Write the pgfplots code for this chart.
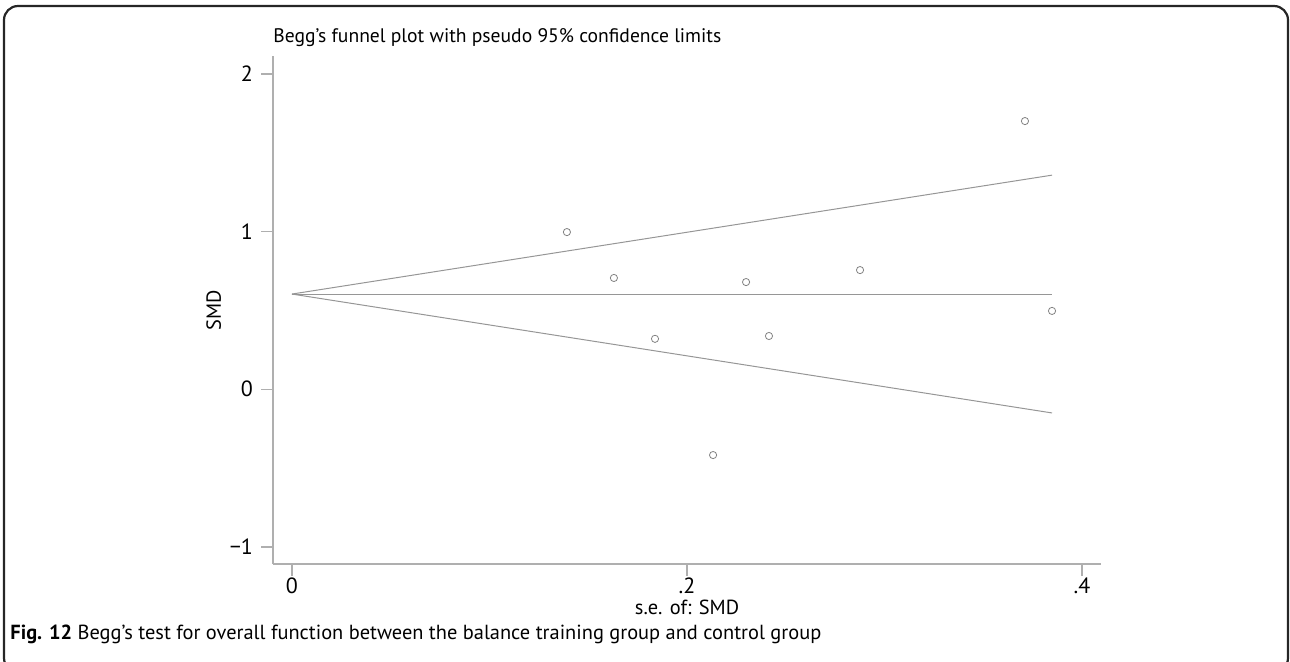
\documentclass[border=0pt]{standalone}
\usepackage{pgfplots}
\pgfplotsset{compat=1.18}
\usepackage{fontspec}
\setmainfont{PT Sans}
\definecolor{axgray}{RGB}{175,175,175}
\definecolor{lngray}{RGB}{150,150,150}
\definecolor{mkgray}{RGB}{130,130,130}
\begin{document}
\begin{tikzpicture}
\begin{scope}
\clip (0,0) rectangle (645pt,-330.5pt);
\draw[line width=1.1pt, color=black!85, rounded corners=7pt] (2pt,-3pt) rectangle (644pt,-336pt);
\end{scope}
\node[anchor=base west, inner sep=0pt, font=\fontsize{9.8}{12}\selectfont] at (136.5pt,-21pt) {Begg’s funnel plot with pseudo 95\% confidence limits};
\node[anchor=base west, inner sep=0pt, font=\fontsize{10.2}{12}\selectfont] at (5pt,-319.5pt) {\textbf{Fig. 12} Begg’s test for overall function between the balance training group and control group};
\begin{axis}[
  at={(136.5pt,-282pt)}, anchor=south west,
  scale only axis, width=414pt, height=254pt,
  xmin=-0.0096, xmax=0.4096, ymin=-1.108, ymax=2.1135,
  axis x line*=bottom, axis y line*=left,
  axis line style={color=axgray, line width=0.6pt},
  tick style={color=axgray, line width=0.6pt},
  tick align=outside, major tick length=6pt,
  xtick={0,0.2,0.4}, xticklabels={0,.2,.4},
  ytick={-1,0,1,2}, yticklabels={−1,0,1,2},
  minor tick num=0,
  /pgf/number format/assume math mode=true,
  ticklabel style={font=\fontsize{11}{12}\selectfont, text=black},
  xticklabel style={anchor=north, yshift=2.4pt},
  yticklabel style={anchor=east, xshift=-0.5pt},
  xlabel={s.e. of: SMD}, ylabel={SMD},
  label style={font=\fontsize{10.2}{12}\selectfont},
  xlabel style={at={(axis description cs:0.5,-0.1)}, anchor=base},
  ylabel style={at={(axis description cs:-0.0628,0.5)}, anchor=base, rotate=0},
  clip=false,
]
\addplot[color=lngray, line width=0.5pt] coordinates {(0,0.604) (0.3848,1.358)};
\addplot[color=lngray, line width=0.5pt] coordinates {(0,0.604) (0.3848,0.604)};
\addplot[color=lngray, line width=0.5pt] coordinates {(0,0.604) (0.3848,-0.150)};
\addplot[only marks, mark=o, mark size=1.8pt, mark options={color=mkgray, line width=0.4pt}] coordinates {
(0.1392,0.997)
(0.1630,0.706)
(0.1838,0.320)
(0.2132,-0.417)
(0.2299,0.680)
(0.2415,0.338)
(0.2876,0.756)
(0.3711,1.701)
(0.3848,0.497)
};
\end{axis}
\pgfresetboundingbox
\path[use as bounding box] (0,0) rectangle (645pt,-330.5pt);
\end{tikzpicture}
\end{document}
